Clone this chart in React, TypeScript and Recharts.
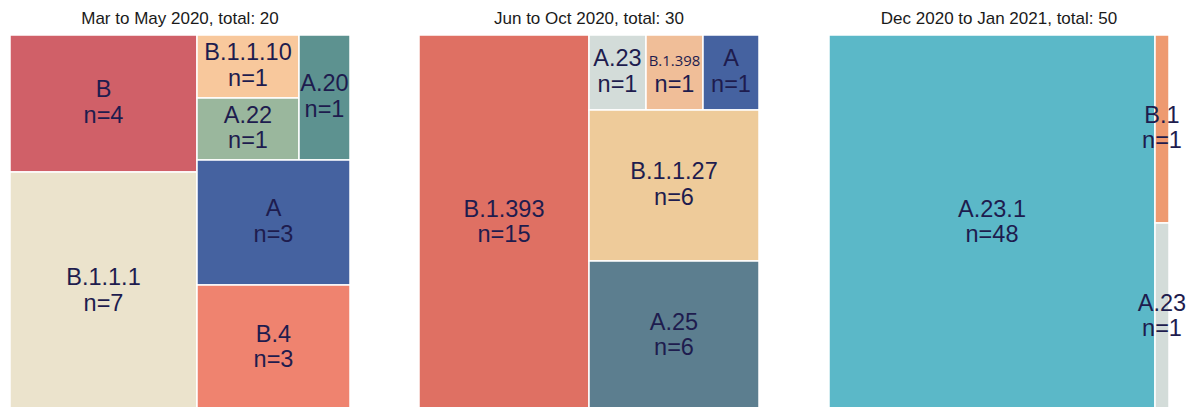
import React from 'react';
import { Treemap } from 'recharts';

// lineage counts per period
const marLineages = ['B', 'B.1.1.1', 'B.1.1.10', 'A.22', 'A.20', 'A', 'B.4'];
const marCounts = [4, 7, 1, 1, 1, 3, 3];

const junLineages = ['B.1.393', 'A.23', 'B.1.398', 'A', 'B.1.1.27', 'A.25'];
const junCounts = [15, 1, 1, 1, 6, 6];

const decLineages = ['A.23.1', 'B.1', 'A.23'];
const decCounts = [48, 1, 1];

const titles = [
  'Mar to May 2020, total: 20',
  'Jun to Oct 2020, total: 30',
  'Dec 2020 to Jan 2021, total: 50',
];

const lineageColors: Record<string, string> = {
  B: '#d06068',
  'B.1.1.1': '#ebe3cc',
  'B.1.1.10': '#f8c89c',
  'A.22': '#9ab79d',
  'A.20': '#5d9290',
  A: '#4562a0',
  'B.4': '#ef836f',
  'B.1.393': '#df7063',
  'A.23': '#d3dcd9',
  'B.1.398': '#f0be98',
  'B.1.1.27': '#eecb9a',
  'A.25': '#5c7e8f',
  'A.23.1': '#5bb8c8',
  'B.1': '#ee9a70',
};

const INK = '#1e1c4e';
const FONT = '"Liberation Sans", Arial, sans-serif';

const leaf = (names: string[], counts: number[], i: number) => ({
  name: names[i],
  value: counts[i],
  leaf: true,
});
const group = (...children: any[]) => ({ children });

// nesting follows how tiles are grouped in the original plot
const marTree = [
  group(leaf(marLineages, marCounts, 0), leaf(marLineages, marCounts, 1)),
  group(
    group(
      leaf(marLineages, marCounts, 2),
      leaf(marLineages, marCounts, 3),
      leaf(marLineages, marCounts, 4)
    ),
    leaf(marLineages, marCounts, 5),
    leaf(marLineages, marCounts, 6)
  ),
];

const junTree = [
  leaf(junLineages, junCounts, 0),
  group(
    group(
      leaf(junLineages, junCounts, 1),
      leaf(junLineages, junCounts, 2),
      leaf(junLineages, junCounts, 3)
    ),
    group(leaf(junLineages, junCounts, 4), leaf(junLineages, junCounts, 5))
  ),
];

const decTree = [
  leaf(decLineages, decCounts, 0),
  group(leaf(decLineages, decCounts, 1), leaf(decLineages, decCounts, 2)),
];

const panels = [
  { title: titles[0], data: marTree, ratio: 1.4, left: 10 },
  { title: titles[1], data: junTree, ratio: 1.4, left: 419 },
  { title: titles[2], data: decTree, ratio: 6, left: 829 },
];

const PANEL_W = 340;
const PANEL_H = 376;
const LABEL_SIZE = 23.5;

// rough Arial advance widths in em
const textEm = (s: string) =>
  s.split('').reduce((w, c) => w + (c === '.' ? 0.278 : /[A-Z]/.test(c) ? 0.667 : 0.556), 0);

const renderCell = (props: any) => {
  const { x, y, width, height, name, value, leaf: isLeaf } = props;
  if (!isLeaf) return null;
  const cx = x + width / 2;
  const cy = y + height / 2;
  let nameSize = LABEL_SIZE;
  let nameFont = FONT;
  const em = textEm(String(name));
  if (em * LABEL_SIZE > width * 0.95 && width > 30) {
    nameSize = (width * 0.9) / em;
    nameFont = '"Open Sans", sans-serif';
  }
  return (
    <g>
      <rect
        x={x}
        y={y}
        width={width}
        height={height}
        fill={lineageColors[name] || '#ccc'}
        stroke="#fff"
        strokeWidth={1.5}
      />
      <text x={cx} y={cy - 6.5} textAnchor="middle" fontSize={nameSize} fontFamily={nameFont} fill={INK}>
        {name}
      </text>
      <text x={cx} y={cy + 19} textAnchor="middle" fontSize={LABEL_SIZE} fontFamily={FONT} fill={INK}>
        {`n=${value}`}
      </text>
    </g>
  );
};

export default function App() {
  return (
    <div
      style={{
        position: 'absolute',
        left: 0,
        top: 0,
        width: 1190,
        height: 407,
        overflow: 'hidden',
        background: '#fff',
        fontFamily: FONT,
      }}
    >
      <style>{`.recharts-surface { overflow: visible; }`}</style>
      {panels.map((p) => (
        <React.Fragment key={p.title}>
          <div
            style={{
              position: 'absolute',
              left: p.left,
              top: 9,
              width: PANEL_W,
              textAlign: 'center',
              fontSize: 17,
              lineHeight: '20px',
              color: '#1a1a1a',
            }}
          >
            {p.title}
          </div>
          <div style={{ position: 'absolute', left: p.left, top: 35 }}>
            <Treemap
              width={PANEL_W}
              height={PANEL_H}
              data={p.data}
              dataKey="value"
              aspectRatio={p.ratio}
              isAnimationActive={false}
              content={renderCell}
            />
          </div>
        </React.Fragment>
      ))}
    </div>
  );
}
